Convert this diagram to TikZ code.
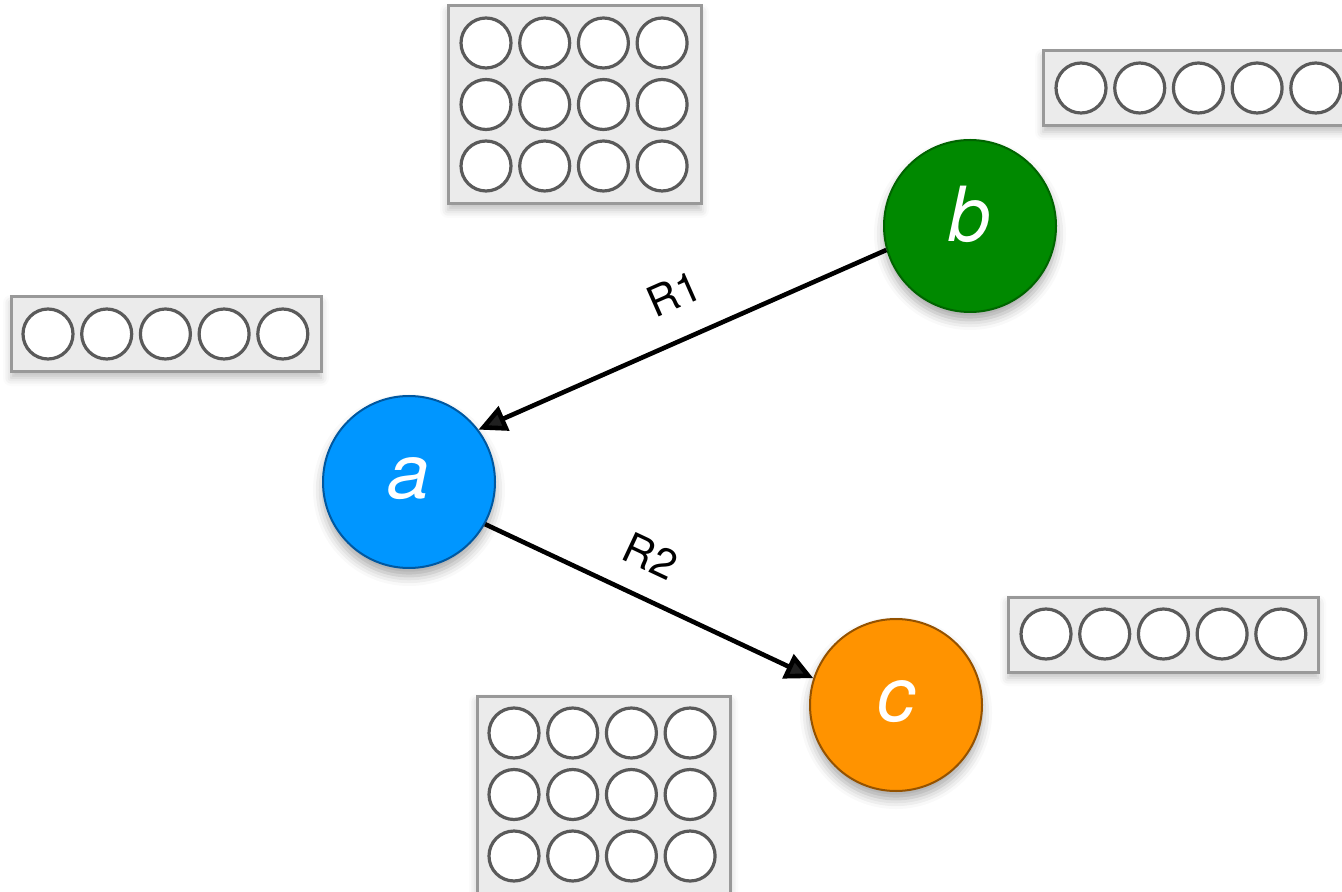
\documentclass[tikz,border=0pt]{standalone}
\usepackage{fontspec}
\setmainfont{TeX Gyre Heros}
\usetikzlibrary{arrows.meta,shadows.blur}
\definecolor{aFill}{RGB}{0,150,255}
\definecolor{aLine}{RGB}{0,88,160}
\definecolor{bFill}{RGB}{0,137,0}
\definecolor{bLine}{RGB}{0,100,0}
\definecolor{cFill}{RGB}{255,147,0}
\definecolor{cLine}{RGB}{148,82,0}
\definecolor{boxFill}{RGB}{235,235,235}
\definecolor{boxLine}{RGB}{153,153,153}
\definecolor{holeLine}{RGB}{90,90,90}
\newcommand{\holdbox}[8]{%
  \draw[boxstyle] (#1,#2) rectangle (#3,#4);
  \foreach \i in {1,...,#7}{\foreach \j in {1,...,#8}{%
    \draw[holestyle] ({#5+(\i-1)*58.7},{#6+(\j-1)*61.5}) circle[radius=12.5pt];}}%
}
\begin{document}
\begin{tikzpicture}[x=0.5pt,y=-0.5pt,
  boxstyle/.style={fill=boxFill, draw=boxLine, line width=1.5pt,
    blur shadow={shadow xshift=0pt, shadow yshift=-3pt, shadow blur radius=4pt, shadow opacity=25}},
  holestyle/.style={fill=white, draw=holeLine, line width=1.6pt},
  ball/.style={circle, minimum size=86pt, inner sep=0pt, line width=1pt,
    text=white, font=\fontsize{38}{38}\selectfont\itshape,
    text height=16pt, text depth=0pt,
    blur shadow={shadow xshift=0pt, shadow yshift=-4pt, shadow blur radius=5pt, shadow opacity=35}},
  conn/.style={line width=2.3pt, -{Triangle[length=14pt,width=13pt]}},
  lab/.style={inner sep=0pt, font=\fontsize{21}{21}\selectfont, text=black}]
\useasboundingbox (0,0) rectangle (1342,892);
\clip (0,0) rectangle (1342,892);

\holdbox{448}{6}{701}{204}{486}{43}{4}{3}
\holdbox{1043}{51}{1356}{126}{1081}{88}{5}{1}
\holdbox{11}{297}{321}{372}{48}{334}{5}{1}
\holdbox{1008}{597}{1318}{672}{1046}{634}{5}{1}
\holdbox{477}{696}{730}{930}{514}{733}{4}{3}

\node[ball, fill=aFill, draw=aLine] (a) at (409,482) {a};
\node[ball, fill=bFill, draw=bLine] (b) at (970,226) {b};
\node[ball, fill=cFill, draw=cLine] (c) at (896,705) {c};

\draw[conn] (b.196) -- node[lab, pos=0.475, sloped, above=14pt] {R1} (a.37);
\draw[conn] (a.-29) -- node[lab, pos=0.45, sloped, above=12pt] {R2} (c.162);
\end{tikzpicture}
\end{document}
